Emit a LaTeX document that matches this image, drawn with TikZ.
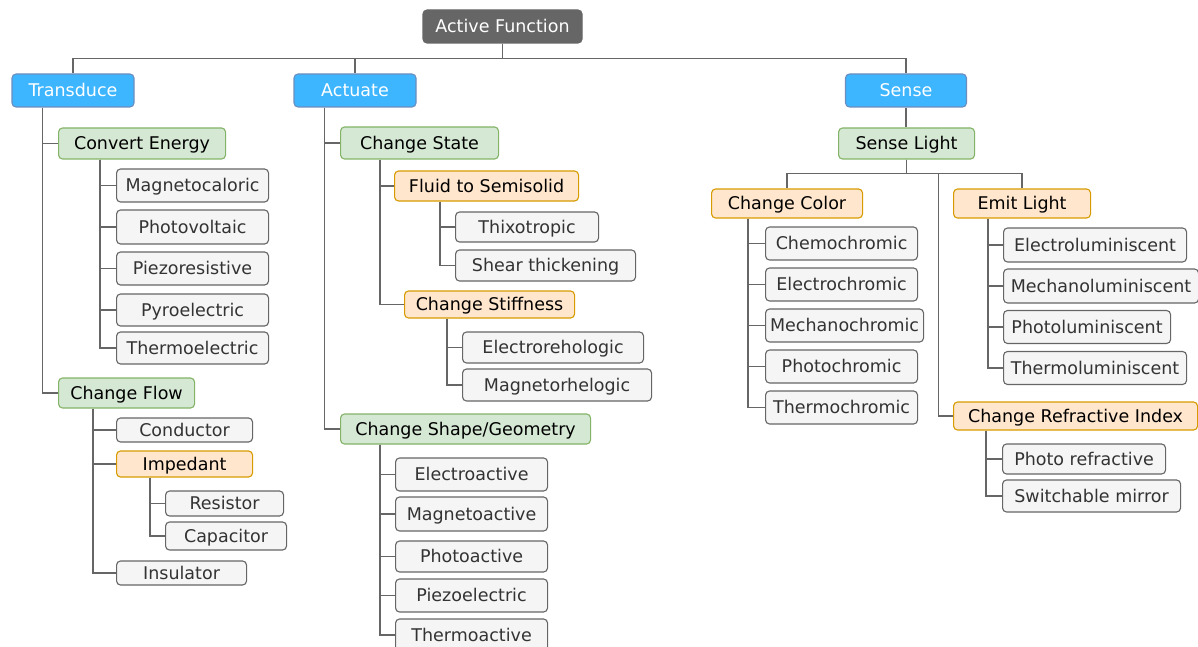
\documentclass[tikz,border=0pt]{standalone}
\usepackage{fontspec}
\setmainfont{DejaVu Sans}
\usepackage{tikz}

\definecolor{rootfill}{HTML}{666666}
\definecolor{bluefill}{HTML}{3DB5FF}
\definecolor{blueline}{HTML}{6C8EBF}
\definecolor{greenfill}{HTML}{D5E8D4}
\definecolor{greenline}{HTML}{82B366}
\definecolor{orangefill}{HTML}{FFE6CC}
\definecolor{orangeline}{HTML}{D79B00}
\definecolor{leaffill}{HTML}{F5F5F5}
\definecolor{leafline}{HTML}{666666}
\definecolor{leaftext}{HTML}{333333}

\tikzset{
  box/.style={rectangle, rounded corners=4pt, line width=1.1pt, inner sep=0pt,
    text height=12.8pt, text depth=0.6pt,
    font=\fontsize{17.5}{20}\selectfont},
  rootbox/.style={box, fill=rootfill, draw=rootfill, text=white},
  topicbox/.style={box, fill=bluefill, draw=blueline, text=white},
  subbox/.style={box, fill=greenfill, draw=greenline, text=black, anchor=west},
  optbox/.style={box, fill=orangefill, draw=orangeline, text=black, anchor=west},
  leafbox/.style={box, fill=leaffill, draw=leafline, text=leaftext, anchor=west},
  link/.style={draw=leafline, line width=1.4pt}
}

\begin{document}
\begin{tikzpicture}[x=1pt, y=-1pt]
        \useasboundingbox (0,0) rectangle (1198,647);
        \clip (0,0) rectangle (1198,647);

        % root and main branches
        \node[rootbox, minimum width=159, minimum height=33] (root) at (502.5,26.5) {Active Function};
        \node[topicbox, minimum width=122, minimum height=33] (trans) at (73,90.5) {Transduce};
        \node[topicbox, minimum width=122, minimum height=33] (act) at (355,90.5) {Actuate};
        \node[topicbox, minimum width=121, minimum height=33] (sense) at (906,90.5) {Sense};

        % transduce
        \node[subbox, minimum width=167, minimum height=31] (conv) at (58,143.5) {Convert Energy};
        \node[leafbox, minimum width=152, minimum height=33] (mcal) at (116,185.5) {Magnetocaloric};
        \node[leafbox, minimum width=152, minimum height=34] (pvol) at (116,227) {Photovoltaic};
        \node[leafbox, minimum width=152, minimum height=33] (pres) at (116,268.5) {Piezoresistive};
        \node[leafbox, minimum width=152, minimum height=32] (pyro) at (116,310) {Pyroelectric};
        \node[leafbox, minimum width=152, minimum height=32] (thel) at (116,348) {Thermoelectric};

        \node[subbox, minimum width=136, minimum height=30] (flow) at (58,393) {Change Flow};
        \node[leafbox, minimum width=136, minimum height=24] (cond) at (116,430) {Conductor};
        \node[optbox, minimum width=136, minimum height=26] (imp) at (116,464) {Impedant};
        \node[leafbox, minimum width=118, minimum height=25] (resi) at (165,503.5) {Resistor};
        \node[leafbox, minimum width=121, minimum height=28] (capa) at (165,536) {Capacitor};
        \node[leafbox, minimum width=130, minimum height=24] (insu) at (116,573) {Insulator};

        % actuate
        \node[subbox, minimum width=158, minimum height=32] (cstate) at (340,143) {Change State};
        \node[optbox, minimum width=184, minimum height=30] (fluid) at (394,186) {Fluid to Semisolid};
        \node[leafbox, minimum width=143, minimum height=30] (thix) at (455,227) {Thixotropic};
        \node[leafbox, minimum width=180, minimum height=31] (shear) at (455,265.5) {Shear thickening};
        \node[optbox, minimum width=170, minimum height=27] (stiff) at (404,304.5) {Change Stiffness};
        \node[leafbox, minimum width=181, minimum height=31] (erh) at (462,347.5) {Electrorehologic};
        \node[leafbox, minimum width=189, minimum height=32] (mrh) at (462,385) {Magnetorhelogic};

        \node[subbox, minimum width=250, minimum height=30] (cshape) at (340,429) {Change Shape/Geometry};
        \node[leafbox, minimum width=152, minimum height=33] (eact) at (395,474.5) {Electroactive};
        \node[leafbox, minimum width=152, minimum height=34] (mact) at (395,514) {Magnetoactive};
        \node[leafbox, minimum width=152, minimum height=31] (pact) at (395,556.5) {Photoactive};
        \node[leafbox, minimum width=152, minimum height=33] (pzel) at (395,595.5) {Piezoelectric};
        \node[leafbox, minimum width=152, minimum height=32] (tact) at (395,635) {Thermoactive};

        % sense
        \node[subbox, minimum width=136, minimum height=31] (slight) at (838,143.5) {Sense Light};
        \node[optbox, minimum width=151, minimum height=29] (ccol) at (711,203.5) {Change Color};
        \node[leafbox, minimum width=152, minimum height=33] (chem) at (765,243.5) {Chemochromic};
        \node[leafbox, minimum width=152, minimum height=33] (elch) at (765,284.5) {Electrochromic};
        \node[leafbox, minimum width=158, minimum height=33] (mech) at (765,325.5) {Mechanochromic};
        \node[leafbox, minimum width=152, minimum height=33] (phch) at (765,366.5) {Photochromic};
        \node[leafbox, minimum width=152, minimum height=33] (thch) at (765,407.5) {Thermochromic};

        \node[optbox, minimum width=137, minimum height=29] (emit) at (953,203.5) {Emit Light};
        \node[leafbox, minimum width=183, minimum height=34] (elum) at (1003,245) {Electroluminiscent};
        \node[leafbox, minimum width=195, minimum height=34] (mlum) at (1003,286) {Mechanoluminiscent};
        \node[leafbox, minimum width=167, minimum height=33] (plum) at (1003,327) {Photoluminiscent};
        \node[leafbox, minimum width=183, minimum height=33] (tlum) at (1003,368) {Thermoluminiscent};

        \node[optbox, minimum width=244, minimum height=28] (cri) at (953,416) {Change Refractive Index};
        \node[leafbox, minimum width=163, minimum height=30] (pref) at (1002,459) {Photo refractive};
        \node[leafbox, minimum width=178, minimum height=32] (smir) at (1002,496) {Switchable mirror};

        % connectors
        \draw[link] (root.south) -- ++(0,15) -| (trans.north);
        \draw[link] (root.south) -- ++(0,15) -| (act.north);
        \draw[link] (root.south) -- ++(0,15) -| (sense.north);

        \draw[link] ([xshift=31pt]trans.south west) |- (conv.west);
        \draw[link] ([xshift=31pt]trans.south west) |- (flow.west);
        \foreach \n in {mcal,pvol,pres,pyro,thel}
          \draw[link] ([xshift=42pt]conv.south west) |- (\n.west);
        \foreach \n in {cond,imp,insu}
          \draw[link] ([xshift=35pt]flow.south west) |- (\n.west);
        \foreach \n in {resi,capa}
          \draw[link] ([xshift=34pt]imp.south west) |- (\n.west);

        \draw[link] ([xshift=31pt]act.south west) |- (cstate.west);
        \draw[link] ([xshift=31pt]act.south west) |- (cshape.west);
        \foreach \n in {fluid,stiff}
          \draw[link] ([xshift=40pt]cstate.south west) |- (\n.west);
        \foreach \n in {thix,shear}
          \draw[link] ([xshift=46pt]fluid.south west) |- (\n.west);
        \foreach \n in {erh,mrh}
          \draw[link] ([xshift=43pt]stiff.south west) |- (\n.west);
        \foreach \n in {eact,mact,pact,pzel,tact}
          \draw[link] ([xshift=40pt]cshape.south west) |- (\n.west);

        \draw[link] (sense.south) -- (sense.south |- slight.north);
        \draw[link] (slight.south) -- ++(0,14) -| (ccol.north);
        \draw[link] (slight.south) -- ++(0,14) -| (emit.north);
        \draw[link] (slight.south) |- ++(32,14) |- (cri.west);
        \foreach \n in {chem,elch,mech,phch,thch}
          \draw[link] ([xshift=37pt]ccol.south west) |- (\n.west);
        \foreach \n in {elum,mlum,plum,tlum}
          \draw[link] ([xshift=35pt]emit.south west) |- (\n.west);
        \foreach \n in {pref,smir}
          \draw[link] ([xshift=33pt]cri.south west) |- (\n.west);

\end{tikzpicture}
\end{document}
